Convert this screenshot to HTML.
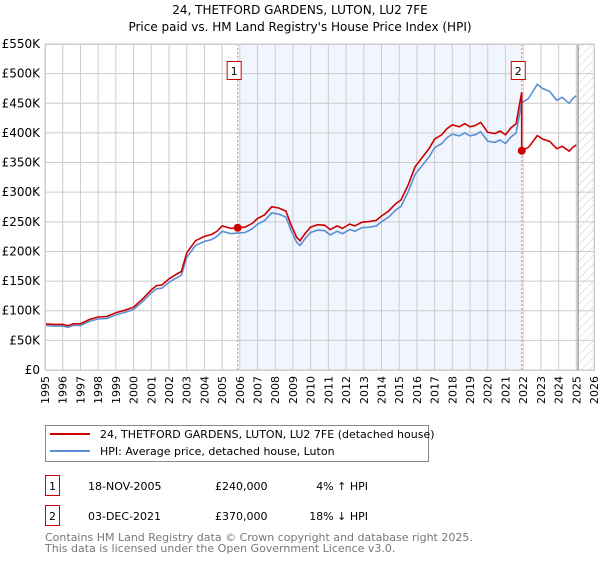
<!DOCTYPE html>
<html><head><meta charset="utf-8"><style>
body{margin:0;background:#fff;font-family:"DejaVu Sans","Liberation Sans",sans-serif;}
svg text{font-family:"DejaVu Sans","Liberation Sans",sans-serif;}
</style></head><body>
<svg id="chart" width="600" height="560" viewBox="0 0 600 560" xmlns="http://www.w3.org/2000/svg">
<defs><pattern id="hatch" width="6" height="6" patternUnits="userSpaceOnUse" patternTransform="rotate(45)"><line x1="0" y1="0" x2="0" y2="6" stroke="#bbb" stroke-width="0.8"/></pattern></defs>
<text x="300" y="14" text-anchor="middle" font-size="12">24, THETFORD GARDENS, LUTON, LU2 7FE</text>
<text x="300" y="31" text-anchor="middle" font-size="12">Price paid vs. HM Land Registry's House Price Index (HPI)</text>
<g id="plot"></g>
<g>
<rect x="45.5" y="425.5" width="383" height="36" fill="#fff" stroke="#888"/>
<line x1="50" y1="434" x2="90" y2="434" stroke="#cc0000" stroke-width="2"/>
<text x="100" y="438" font-size="11">24, THETFORD GARDENS, LUTON, LU2 7FE (detached house)</text>
<line x1="50" y1="451" x2="90" y2="451" stroke="#5b8fd4" stroke-width="2"/>
<text x="100" y="455" font-size="11">HPI: Average price, detached house, Luton</text>
</g>
<g font-size="11">
<rect x="45.5" y="475.5" width="14" height="20" fill="#fff" stroke="#cc0000"/>
<text x="52.5" y="490" text-anchor="middle">1</text>
<text x="88" y="490">18-NOV-2005</text>
<text x="215" y="490">£240,000</text>
<text x="368" y="490" text-anchor="end">4% ↑ HPI</text>
<rect x="45.5" y="505.5" width="14" height="20" fill="#fff" stroke="#cc0000"/>
<text x="52.5" y="520" text-anchor="middle">2</text>
<text x="88" y="520">03-DEC-2021</text>
<text x="215" y="520">£370,000</text>
<text x="368" y="520" text-anchor="end">18% ↓ HPI</text>
</g>
<text x="45" y="541" font-size="11" fill="#777">Contains HM Land Registry data © Crown copyright and database right 2025.</text>
<text x="45" y="552" font-size="11" fill="#777">This data is licensed under the Open Government Licence v3.0.</text>
</svg>
<script>
const hpiYears=[1995.0,1995.5,1996.0,1996.3,1996.6,1997.0,1997.5,1998.0,1998.5,1999.0,1999.5,2000.0,2000.5,2001.0,2001.3,2001.6,2002.0,2002.4,2002.7,2003.0,2003.5,2004.0,2004.4,2004.7,2005.0,2005.5,2005.88,2006.3,2006.7,2007.0,2007.4,2007.8,2008.2,2008.6,2008.9,2009.2,2009.4,2009.7,2010.0,2010.4,2010.8,2011.1,2011.5,2011.8,2012.2,2012.5,2012.9,2013.3,2013.7,2014.0,2014.4,2014.8,2015.1,2015.5,2015.9,2016.3,2016.7,2017.0,2017.4,2017.7,2018.0,2018.4,2018.7,2019.0,2019.3,2019.6,2020.0,2020.4,2020.7,2021.0,2021.3,2021.6,2021.92,2022.3,2022.8,2023.1,2023.5,2023.9,2024.2,2024.6,2024.8,2025.0];
const hpiValues=[75,74,74,72,75,75,82,86,87,93,97,102,115,130,137,138,148,155,160,190,210,217,220,225,234,230,231,232,238,246,252,265,263,258,235,216,210,222,232,236,235,228,234,230,237,234,240,241,243,250,258,270,276,300,330,345,360,375,382,392,398,395,400,395,397,402,386,384,388,382,393,400,451,458,482,475,470,455,460,450,458,463];
const yTicks=[0,50,100,150,200,250,300,350,400,450,500,550];
const yTickLabels=["£0","£50K","£100K","£150K","£200K","£250K","£300K","£350K","£400K","£450K","£500K","£550K"];
const xTicks=[1995,1996,1997,1998,1999,2000,2001,2002,2003,2004,2005,2006,2007,2008,2009,2010,2011,2012,2013,2014,2015,2016,2017,2018,2019,2020,2021,2022,2023,2024,2025,2026];
const saleYears=[2005.88,2021.92];
const salePrices=[240,370];
const saleLabels=["1","2"];
const dataEnd=2025.1;

const X0=45,X1=594,Y0=370,Y1=44;
const xs=v=>X0+(v-1995)/(2026-1995)*(X1-X0);
const ys=v=>Y0-v/550*(Y0-Y1);
const NS="http://www.w3.org/2000/svg";
const g=document.getElementById('plot');
function mk(t,a){const e=document.createElementNS(NS,t);for(const k in a)e.setAttribute(k,a[k]);g.appendChild(e);return e;}

let e=mk('rect',{x:xs(saleYears[0]),y:Y1,width:xs(saleYears[1])-xs(saleYears[0]),height:Y0-Y1,fill:'#f1f5fd'});


e=mk('rect',{x:xs(dataEnd),y:Y1,width:X1-xs(dataEnd),height:Y0-Y1,fill:'url(#hatch)'});


xTicks.forEach(t=>{
  e=mk('line',{x1:xs(t),x2:xs(t),y1:Y1,y2:Y0,stroke:'#ccc','stroke-width':1});
  
  
  e=mk('text',{transform:`translate(${xs(t)+4},376) rotate(-90)`,'text-anchor':'end','font-size':11});
  e.textContent=t;
  
  
});
yTicks.forEach((t,i)=>{
  e=mk('line',{x1:X0,x2:X1,y1:ys(t),y2:ys(t),stroke:'#ccc','stroke-width':1});
  
  
  e=mk('text',{x:40,y:ys(t)+4,'text-anchor':'end','font-size':12});
  e.textContent=yTickLabels[i];
  
  
});
e=mk('line',{x1:xs(dataEnd),x2:xs(dataEnd),y1:Y1,y2:Y0,stroke:'#888','stroke-width':1.2});


saleYears.forEach((s,i)=>{
  e=mk('line',{x1:xs(s),x2:xs(s),y1:Y1,y2:Y0,stroke:'#e88','stroke-width':1,'stroke-dasharray':'2,2'});
  
  
});
// HPI line
const hp=hpiYears.map((y,i)=>`${xs(y).toFixed(1)},${ys(hpiValues[i]).toFixed(1)}`).join(' ');
e=mk('polyline',{points:hp,fill:'none',stroke:'#5b8fd4','stroke-width':1.6});


// property line: HPI indexed to each sale
function hpiAt(t){for(let i=1;i<hpiYears.length;i++){if(t<=hpiYears[i]){const f=(t-hpiYears[i-1])/(hpiYears[i]-hpiYears[i-1]);return hpiValues[i-1]+f*(hpiValues[i]-hpiValues[i-1]);}}return hpiValues[hpiValues.length-1];}
const r1=salePrices[0]/hpiAt(saleYears[0]),r2=salePrices[1]/hpiAt(saleYears[1]);
const pts=[];
hpiYears.forEach((y,i)=>{
  if(y<=saleYears[1]) pts.push([y,hpiValues[i]*r1]);
  if(y===saleYears[1]) pts.push([y,salePrices[1]]);
  else if(y>saleYears[1]) pts.push([y,hpiValues[i]*r2]);
});
e=mk('polyline',{points:pts.map(p=>`${xs(p[0]).toFixed(1)},${ys(p[1]).toFixed(1)}`).join(' '),fill:'none',stroke:'#cc0000','stroke-width':1.6});


saleYears.forEach((s,i)=>{
  e=mk('circle',{cx:xs(s),cy:ys(salePrices[i]),r:4,fill:'#cc0000'});
  
  
  e=mk('rect',{x:xs(s)-10.5,y:61.5,width:14,height:18,fill:'#fff',stroke:'#cc0000'});
  
  
  e=mk('text',{x:xs(s)-3.5,y:75,'text-anchor':'middle','font-size':11});
  e.textContent=saleLabels[i];
  
  
});
e=mk('rect',{x:X0+0.5,y:Y1+0.5,width:X1-X0,height:Y0-Y1,fill:'none',stroke:'#ccc'});


</script>
</body></html>
